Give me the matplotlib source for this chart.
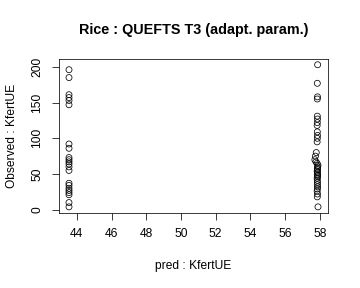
import matplotlib
matplotlib.use("Agg")
import matplotlib.pyplot as plt

plt.rcParams['font.family'] = ['Liberation Sans', 'DejaVu Sans']

# predicted KfertUE (two groups) and observed KfertUE
pred_low = [43.55] * 22
obs_low = [196, 185, 161, 157, 153, 147, 92, 86, 73, 70, 67, 64, 60, 55,
           37, 34, 30, 27, 24, 21, 10, 4]

pred_high = [57.88, 57.86, 57.87, 57.86, 57.86, 57.87, 57.86, 57.85, 57.86, 57.87,
             57.86, 57.85, 57.8, 57.75, 57.72, 57.78, 57.85, 57.9, 57.88, 57.86,
             57.87, 57.85, 57.88, 57.86, 57.87, 57.88, 57.85, 57.86, 57.87, 57.86,
             57.88, 57.86, 57.85, 57.87, 57.86, 57.9]
obs_high = [203, 177, 158, 155, 131, 127, 122, 118, 109, 104, 100, 95, 80, 75,
            70, 67, 65, 62, 60, 58, 56, 54, 52, 50, 48, 46, 44, 41, 38, 35,
            32, 29, 26, 22, 18, 4]

x = pred_low + pred_high
y = obs_low + obs_high

fig = plt.figure(figsize=(5, 4), dpi=72)
ax = fig.add_axes([0.164, 0.262, 0.747, 0.533])

ax.scatter(x, y, s=36, facecolors='none', edgecolors='black', linewidths=0.75)

# R-style 4% padding
xr = max(x) - min(x)
yr = max(y) - min(y)
ax.set_xlim(min(x) - 0.04 * xr, max(x) + 0.04 * xr)
ax.set_ylim(min(y) - 0.04 * yr, max(y) + 0.04 * yr)

ax.set_xticks(range(44, 59, 2))
ax.set_yticks(range(0, 201, 50))
ax.tick_params(direction='out', length=7, width=0.75, labelsize=12)
ax.tick_params(axis='x', pad=8)
ax.tick_params(axis='y', pad=9)
plt.setp(ax.get_yticklabels(), rotation=90, va='center')
for sp in ax.spines.values():
    sp.set_linewidth(0.75)

ax.set_xlabel("pred : KfertUE", fontsize=12, labelpad=20)
ax.set_ylabel("Observed : KfertUE", fontsize=12, labelpad=13)
ax.set_title("Rice : QUEFTS T3 (adapt. param.)", fontsize=14.4, fontweight='bold', pad=25)

fig.savefig("out.png", dpi=72)
